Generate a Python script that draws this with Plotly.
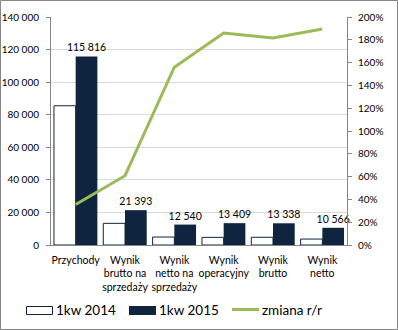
import plotly.graph_objects as go

categories = ["Przychody", "Wynik<br>brutto na<br>sprzedaży", "Wynik<br>netto na<br>sprzedaży",
              "Wynik<br>operacyjny", "Wynik<br>brutto", "Wynik<br>netto"]
series_names = ["1kw 2014", "1kw 2015", "zmiana r/r"]
q1_2014 = [85500, 13300, 4900, 4690, 4740, 3650]
q1_2015 = [115816, 21393, 12540, 13409, 13338, 10566]
change = [0.355, 0.608, 1.56, 1.86, 1.816, 1.895]

W, H = 398, 330
L, R, T, B = 51, 51, 17, 85
pw, ph = W - L - R, H - T - B
FONT = "Lato, 'Open Sans', sans-serif"
NAVY = "#0F243E"
GREEN = "#9BBB59"


def px(x):
    return (x - L) / pw


def py(y):
    return (H - B - y) / ph


fig = go.Figure()
fig.add_trace(go.Bar(x=categories, y=q1_2014, name=series_names[0],
                     marker=dict(color="white", line=dict(color=NAVY, width=1))))
fig.add_trace(go.Bar(x=categories, y=q1_2015, name=series_names[1],
                     marker=dict(color=NAVY, line=dict(width=0)),
                     texttemplate="%{y:,d}", textposition="outside", constraintext="none",
                     textfont=dict(size=10.5, color="#000"), cliponaxis=False))
fig.add_trace(go.Scatter(x=categories, y=change, name=series_names[2], yaxis="y2",
                         mode="lines", line=dict(color=GREEN, width=3)))

# outer chart border
fig.add_shape(type="rect", xref="paper", yref="paper",
              x0=px(0.5), x1=px(W - 0.5), y0=py(H - 0.5), y1=py(0.5),
              line=dict(color="#868686", width=1), layer="above")

# manual legend
ly = 310
fig.add_shape(type="rect", xref="paper", yref="paper", x0=px(26.5), x1=px(52.5),
              y0=py(314.5), y1=py(306.5), fillcolor="white", line=dict(color=NAVY, width=1))
fig.add_shape(type="rect", xref="paper", yref="paper", x0=px(129), x1=px(156),
              y0=py(315), y1=py(306), fillcolor=NAVY, line=dict(width=0))
fig.add_shape(type="line", xref="paper", yref="paper", x0=px(232), x1=px(259),
              y0=py(309.5), y1=py(309.5), line=dict(color=GREEN, width=3))
for name, x0 in zip(series_names, [54, 157, 260]):
    fig.add_annotation(text=name, xref="paper", yref="paper", x=px(x0), y=py(ly),
                       xanchor="left", yanchor="middle", showarrow=False,
                       font=dict(size=13.5, color="#000", family=FONT))

fig.update_layout(
    width=W, height=H, margin=dict(l=L, r=R, t=T, b=B),
    paper_bgcolor="white", plot_bgcolor="white",
    separators=", ",
    font=dict(family=FONT, size=10, color="#000"),
    barmode="group", bargap=0.12, bargroupgap=0,
    showlegend=False,
    xaxis=dict(showline=True, linecolor="#868686", linewidth=1, ticks="", tickangle=0,
               automargin=False, tickfont=dict(size=10.5), showgrid=False,
               ticklabelstandoff=5),
    yaxis=dict(range=[0, 140000], dtick=20000, tickformat=",d", showgrid=True, automargin=False,
               gridcolor="#D9D9D9", showline=True, linecolor="#868686", ticks="outside",
               ticklen=4, tickcolor="#868686", tickfont=dict(size=10), ticklabelstandoff=5),
    yaxis2=dict(range=[0, 2.0], dtick=0.2, tickformat=".0%", overlaying="y", side="right",
                automargin=False, ticklabelstandoff=4,
                showgrid=False, showline=True, linecolor="#868686", ticks="outside",
                ticklen=4, tickcolor="#868686", tickfont=dict(size=10)),
)

fig.write_html("out.html")
